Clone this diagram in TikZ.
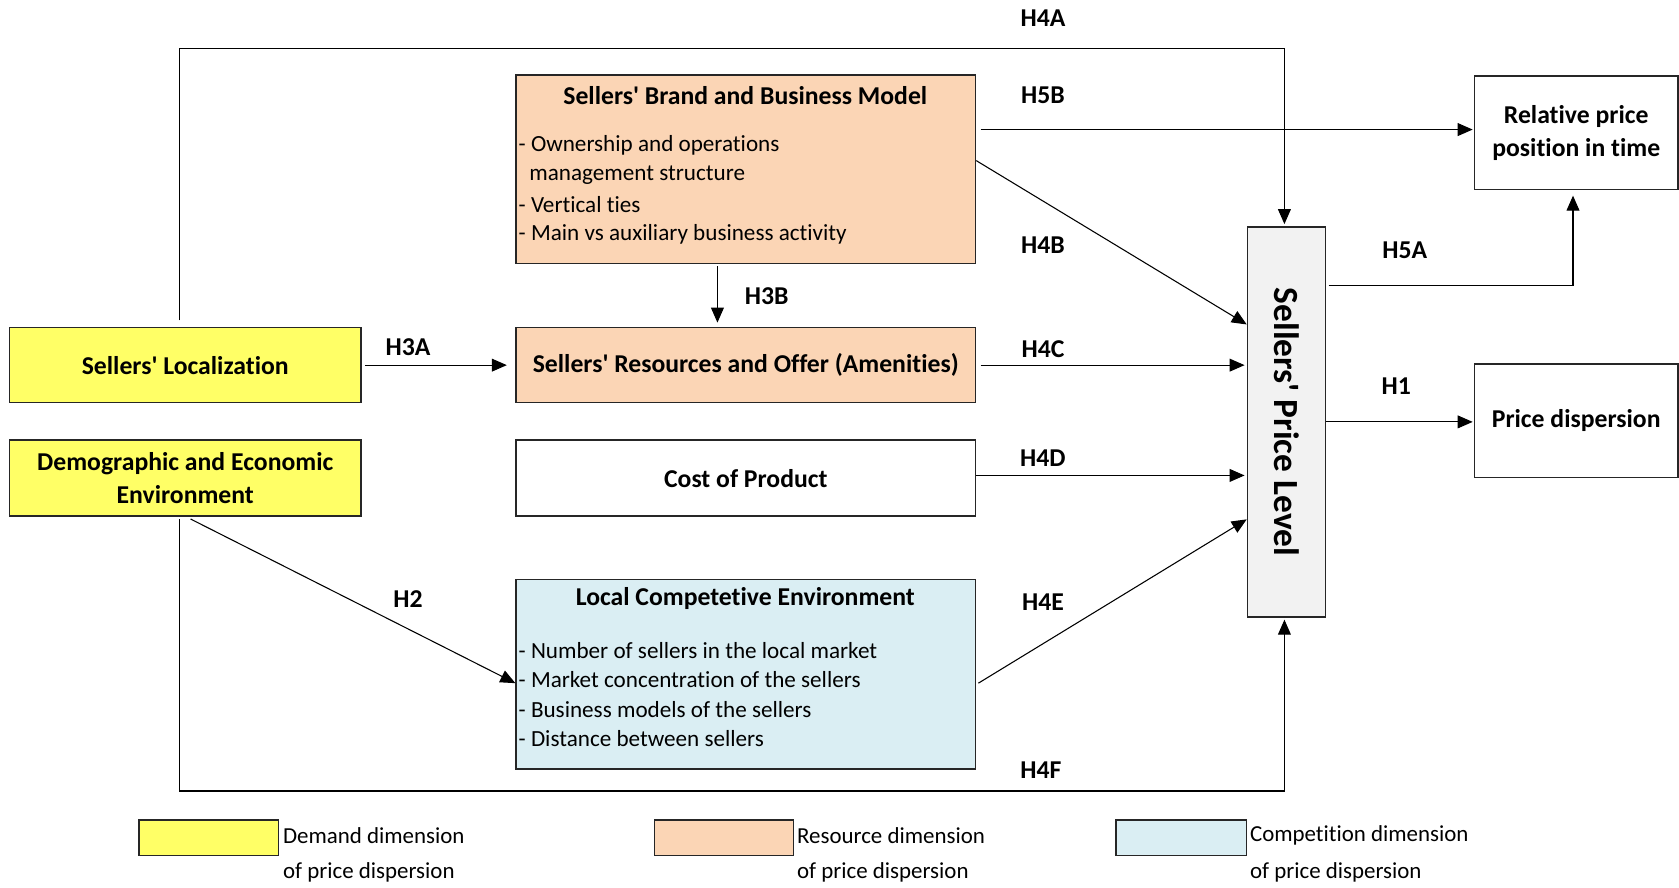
\documentclass[tikz,border=0pt]{standalone}
\usepackage{fontspec}
\setmainfont{Carlito}[Ligatures={TeXOff,NoCommon}]
\usetikzlibrary{arrows.meta,calc}
\definecolor{demand}{HTML}{FFFF66}
\definecolor{resource}{HTML}{FBD5B5}
\definecolor{compet}{HTML}{DAEEF3}
\definecolor{levelgray}{HTML}{F2F2F2}
\begin{document}
\begin{tikzpicture}[x=0.5pt,y=-0.5pt,
  box/.style={draw=black!85, line width=0.7pt, rectangle, inner sep=0pt,
    font=\fontsize{12}{15.5}\selectfont\bfseries},
  lbl/.style={font=\fontsize{12}{15}\selectfont\bfseries, inner sep=0pt},
  item/.style={font=\fontsize{10.8}{13}\selectfont, anchor=west, inner sep=0pt},
  legtext/.style={font=\fontsize{10.7}{13}\selectfont, anchor=west, inner sep=0pt},
  arr/.style={-{Triangle[length=7pt,width=6pt]}, line width=0.5pt}]
\useasboundingbox (0,0) rectangle (1568,829);

% main boxes
\node[box, fill=resource, minimum width=214.5pt, minimum height=88pt] (brand) at (696.5,158) {};
\node[box, fill=resource, minimum width=214.5pt, minimum height=35pt] (res) at (696.5,341) {Sellers' Resources and Offer (Amenities)};
\node[box, fill=white, minimum width=214.5pt, minimum height=35.5pt] (cost) at (696.5,446.5) {Cost of Product};
\node[box, fill=compet, minimum width=214.5pt, minimum height=88.5pt] (comp) at (696.5,629.5) {};
\node[box, fill=demand, minimum width=164pt, minimum height=35pt] (loc) at (173,341) {Sellers' Localization};
\node[box, fill=demand, minimum width=164pt, minimum height=35.5pt, align=center] (demo) at (173,446.5) {Demographic and Economic\\Environment};
\node[box, fill=levelgray, minimum width=36.5pt, minimum height=182pt] (level) at (1201.5,394) {};
\node[rotate=-90, font=\fontsize{16.5}{18}\selectfont\bfseries] (leveltxt) at (level.center) {Sellers' Price Level};
\node[box, fill=white, minimum width=95pt, minimum height=53pt, align=center] (rel) at (1472,124) {Relative price\\position in time};
\node[box, fill=white, minimum width=95pt, minimum height=53pt] (disp) at (1472,393) {Price dispersion};

% box contents
\node[lbl] (brandtitle) at (696,89) {Sellers' Brand and Business Model};
\node[item] (b1) at (484,136) {- Ownership and operations};
\node[item] (b2) at (494,164) {management structure};
\node[item] (b3) at (484,191) {- Vertical ties};
\node[item] (b4) at (484,219) {- Main vs auxiliary business activity};
\node[lbl] (comptitle) at (696,559) {Local Competetive Environment};
\node[item] (c1) at (484,608) {- Number of sellers in the local market};
\node[item] (c2) at (484,635) {- Market concentration of the sellers};
\node[item] (c3) at (484,663) {- Business models of the sellers};
\node[item] (c4) at (484,690) {- Distance between sellers};

% connectors
\draw[arr] ($(loc.north)+(-5,-6)$) -- ++(0,-254) -| ($(level.north)+(-2,-2)$);
\draw[arr] ($(brand.east)+(4,-37)$) coordinate (h5bs) -- ($(h5bs -| rel.west)+(-1,0)$);
\draw[arr] ($(brand.east)+(0,-8)$) -- ($(level.west)+(0,-91)$);
\draw[arr] ($(level.east)+(2,-127)$) -| ($(rel.south)+(-3,5)$);
\draw[arr] (level.east) -- ($(level.east -| disp.west)+(-1,0)$);
\draw[arr] ($(brand.south)+(-26.5,2)$) -- ($(res.north)+(-26.5,-4)$);
\draw[arr] ($(loc.east)+(3,0)$) -- ($(res.west)+(-8,0)$);
\draw[arr] ($(res.east)+(4,0)$) -- ($(res.east -| level.west)+(-2,0)$);
\draw[arr] ($(cost.east)+(0,-2.5)$) coordinate (h4ds) -- ($(h4ds -| level.west)+(-2,0)$);
\draw[arr] ($(demo.south)+(5,2)$) -- ($(comp.west)+(0,8.5)$);
\draw[arr] ($(comp.east)+(2,8.5)$) -- ($(level.west)+(0,91)$);
\draw[arr] ($(demo.south)+(-5,2)$) -- ++(0,254) -| ($(level.south)+(-2,2)$);

% hypothesis labels
\node[lbl] (lh4a) at (974,17) {H4A};
\node[lbl] (lh5b) at (974,89) {H5B};
\node[lbl] (lh4b) at (974,229) {H4B};
\node[lbl] (lh5a) at (1312,234) {H5A};
\node[lbl] (lh1) at (1304,361) {H1};
\node[lbl] (lh3b) at (716,277) {H3B};
\node[lbl] (lh3a) at (381,324) {H3A};
\node[lbl] (lh4c) at (974,326) {H4C};
\node[lbl] (lh4d) at (974,428) {H4D};
\node[lbl] (lh2) at (381,559) {H2};
\node[lbl] (lh4e) at (974,562) {H4E};
\node[lbl] (lh4f) at (972,719) {H4F};

% legend
\node[box, fill=demand, minimum width=65pt, minimum height=16.5pt] (legd) at (195,782.5) {};
\node[box, fill=resource, minimum width=65pt, minimum height=16.5pt] (legr) at (676,782.5) {};
\node[box, fill=compet, minimum width=61pt, minimum height=16.5pt] (legc) at (1103,782.5) {};
\node[legtext] (ld1) at (264,780) {Demand dimension};
\node[legtext] (ld2) at (264,815) {of price dispersion};
\node[legtext] (lr1) at (744,780) {Resource dimension};
\node[legtext] (lr2) at (744,815) {of price dispersion};
\node[legtext] (lc1) at (1167,780) {Competition dimension};
\node[legtext] (lc2) at (1167,815) {of price dispersion};
\end{tikzpicture}
\end{document}
